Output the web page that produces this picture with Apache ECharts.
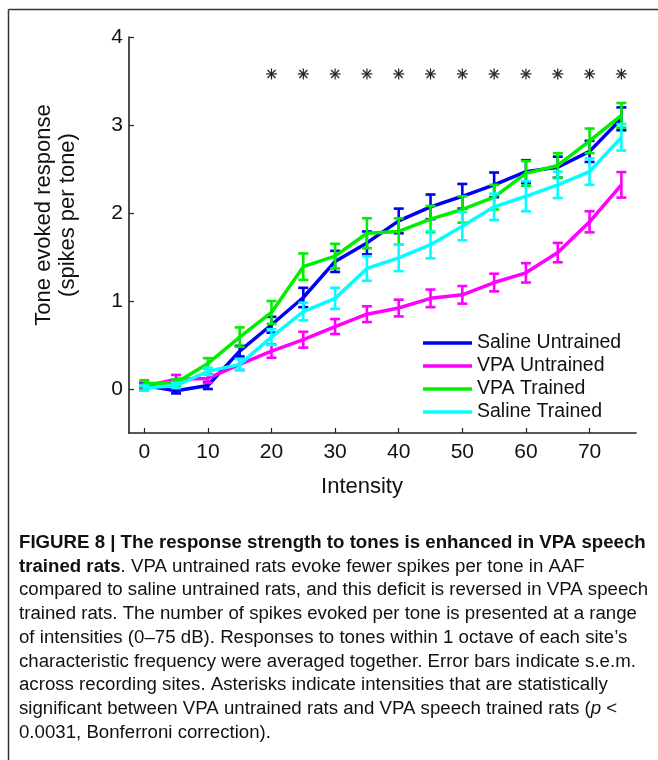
<!DOCTYPE html>
<html>
<head>
<meta charset="utf-8">
<script src="https://cdn.jsdelivr.net/npm/echarts@6/dist/echarts.min.js"></script>
<style>
html,body{margin:0;padding:0;background:#fff;}
#chart{width:658px;height:760px;}
</style>
</head>
<body>
<div id="chart"></div>
<script>
// ---- data ----
const intensity = [0,5,10,15,20,25,30,35,40,45,50,55,60,65,70,75];
const seriesNames = ['Saline Untrained','VPA Untrained','VPA Trained','Saline Trained'];
const salineUntrained    = [0.04,-0.02,0.04,0.43,0.73,1.04,1.45,1.66,1.91,2.07,2.19,2.32,2.47,2.52,2.70,3.07];
const salineUntrainedErr = [0.03,0.03,0.04,0.06,0.09,0.11,0.12,0.13,0.14,0.14,0.14,0.14,0.13,0.12,0.12,0.13];
const vpaUntrained       = [0.03,0.11,0.12,0.28,0.43,0.56,0.71,0.85,0.92,1.03,1.07,1.21,1.32,1.55,1.90,2.32];
const vpaUntrainedErr    = [0.03,0.05,0.05,0.065,0.075,0.09,0.085,0.09,0.095,0.10,0.10,0.10,0.11,0.11,0.12,0.145];
const vpaTrained         = [0.06,0.07,0.29,0.59,0.87,1.39,1.51,1.77,1.79,1.93,2.04,2.18,2.45,2.54,2.82,3.11];
const vpaTrainedErr      = [0.04,0.04,0.06,0.11,0.13,0.15,0.14,0.17,0.15,0.15,0.15,0.14,0.14,0.14,0.14,0.14];
const salineTrained      = [0.01,0.04,0.20,0.28,0.59,0.88,1.03,1.37,1.49,1.64,1.85,2.07,2.19,2.32,2.47,2.86];
const salineTrainedErr   = [0.03,0.03,0.04,0.06,0.09,0.10,0.12,0.14,0.15,0.155,0.16,0.15,0.17,0.15,0.15,0.15];
const sigIntensity = [20,25,30,35,40,45,50,55,60,65,70,75];
const sigLevel = 3.58;
const xTicks = [0,10,20,30,40,50,60,70];
const yTicks = [0,1,2,3,4];

const captionLines = [
  '{b|FIGURE 8 | The response strength to tones is enhanced in VPA speech}',
  '{b|trained rats}{r|. VPA untrained rats evoke fewer spikes per tone in AAF}',
  '{r|compared to saline untrained rats, and this deficit is reversed in VPA speech}',
  '{r|trained rats. The number of spikes evoked per tone is presented at a range}',
  '{r|of intensities (0–75 dB). Responses to tones within 1 octave of each site’s}',
  '{r|characteristic frequency were averaged together. Error bars indicate s.e.m.}',
  '{r|across recording sites. Asterisks indicate intensities that are statistically}',
  '{r|significant between VPA untrained rats and VPA speech trained rats (}{i|p}{r| <}',
  '{r|0.0031, Bonferroni correction).}'
];

// ---- chart ----
const colors = ['#0000f0','#ff00ff','#00ee00','#00ffff'];
const values = [salineUntrained, vpaUntrained, vpaTrained, salineTrained];
const errs = [salineUntrainedErr, vpaUntrainedErr, vpaTrainedErr, salineTrainedErr];
const FONT = '"Liberation Sans", Arial, Helvetica, sans-serif';

function errRender(color){
  return function(params, api){
    const x = api.value(0), lo = api.value(1), hi = api.value(2);
    const a = api.coord([x, lo]), b = api.coord([x, hi]);
    const hw = 5;
    const st = {stroke: color, lineWidth: 2.6};
    return {type:'group', children:[
      {type:'line', shape:{x1:a[0],y1:a[1],x2:b[0],y2:b[1]}, style:st},
      {type:'line', shape:{x1:a[0]-hw,y1:a[1],x2:a[0]+hw,y2:a[1]}, style:st},
      {type:'line', shape:{x1:b[0]-hw,y1:b[1],x2:b[0]+hw,y2:b[1]}, style:st}
    ]};
  };
}
function starRender(params, api){
  const p = api.coord([api.value(0), api.value(1)]);
  const r = 5.5, d = 4;
  const st = {stroke:'#222', lineWidth:1.2};
  return {type:'group', children:[
    {type:'line', shape:{x1:p[0]-r,y1:p[1],x2:p[0]+r,y2:p[1]}, style:st},
    {type:'line', shape:{x1:p[0],y1:p[1]-r,x2:p[0],y2:p[1]+r}, style:st},
    {type:'line', shape:{x1:p[0]-d,y1:p[1]-d,x2:p[0]+d,y2:p[1]+d}, style:st},
    {type:'line', shape:{x1:p[0]-d,y1:p[1]+d,x2:p[0]+d,y2:p[1]-d}, style:st}
  ]};
}

const series = [];
for (let k = 0; k < 4; k++) {
  series.push({
    name: seriesNames[k], type:'line', symbol:'none',
    data: intensity.map((x,i)=>[x, values[k][i]]),
    lineStyle:{color:colors[k], width:3.5}, itemStyle:{color:colors[k]},
    z: 2 + 2*k, animation:false
  });
  series.push({
    name: 'err' + k, type:'custom', renderItem: errRender(colors[k]),
    data: intensity.map((x,i)=>[x, values[k][i]-errs[k][i], values[k][i]+errs[k][i]]),
    encode:{x:0, y:[1,2]}, z: 3 + 2*k, animation:false, silent:true
  });
}
series.push({
  name:'sig', type:'custom', renderItem: starRender,
  data: sigIntensity.map(x=>[x, sigLevel]), encode:{x:0,y:1}, animation:false, silent:true
});

// caption scaling
const cv = document.createElement('canvas').getContext('2d');
cv.font = '18px ' + FONT;
const w3 = cv.measureText('compared to saline untrained rats, and this deficit is reversed in VPA speech').width;
const capScale = 629 / w3;

const graphics = [
  {type:'line', shape:{x1:8.5,y1:9.5,x2:658,y2:9.5}, style:{stroke:'#333', lineWidth:1.5}},
  {type:'line', shape:{x1:8.5,y1:9.5,x2:8.5,y2:760}, style:{stroke:'#333', lineWidth:1.5}},
  {type:'text', x:44, y:215, rotation:Math.PI/2,
   style:{text:'Tone evoked response', font:'22px ' + FONT, fill:'#111', align:'center', verticalAlign:'middle'}},
  {type:'text', x:68, y:215, rotation:Math.PI/2,
   style:{text:'(spikes per tone)', font:'22px ' + FONT, fill:'#111', align:'center', verticalAlign:'middle'}},
  {type:'text', x:362, y:487,
   style:{text:'Intensity', font:'22px ' + FONT, fill:'#111', align:'center', verticalAlign:'middle'}}
];
captionLines.forEach((t, i) => {
  graphics.push({type:'text', x:19, y:543 + i*23.75, scaleX: capScale,
    style:{text:t, align:'left', verticalAlign:'middle',
      rich:{
        b:{fontFamily:FONT, fontSize:18, fontWeight:'bold', fill:'#111'},
        r:{fontFamily:FONT, fontSize:18, fill:'#111'},
        i:{fontFamily:FONT, fontSize:18, fontStyle:'italic', fill:'#111'}
      }}});
});

const chart = echarts.init(document.getElementById('chart'), null, {renderer:'canvas'});
chart.setOption({
  animation:false,
  backgroundColor:'#fff',
  grid:{left:129, right:22, top:37, bottom:327},
  xAxis:{type:'value', min:-2.4, max:77.3,
    axisLine:{onZero:false, lineStyle:{color:'#222', width:1.6}},
    axisTick:{inside:true, length:5, customValues:xTicks, lineStyle:{color:'#222', width:1.2}},
    axisLabel:{customValues:xTicks, margin:9, fontSize:21, fontFamily:FONT, color:'#111'},
    splitLine:{show:false}},
  yAxis:{type:'value', min:-0.5, max:4,
    axisLine:{show:true, onZero:false, lineStyle:{color:'#222', width:1.6}},
    axisTick:{show:true, inside:true, length:5, customValues:yTicks, lineStyle:{color:'#222', width:1.2}},
    axisLabel:{customValues:yTicks, margin:6, fontSize:21, fontFamily:FONT, color:'#111'},
    splitLine:{show:false}},
  legend:{data:seriesNames, orient:'vertical', left:423, top:333, padding:0, icon:'rect',
    itemWidth:49, itemHeight:3.5, itemGap:3,
    textStyle:{fontSize:19.5, fontFamily:FONT, color:'#111', lineHeight:20}},
  series: series,
  graphic: graphics
});
</script>
</body>
</html>
